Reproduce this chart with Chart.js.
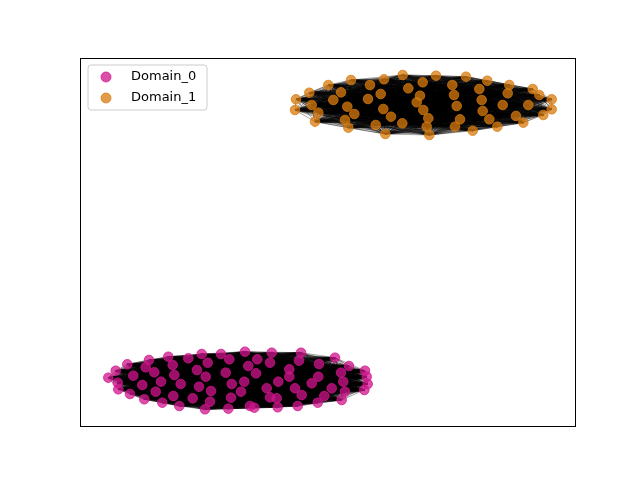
<!DOCTYPE html>
<html>
<head>
<meta charset="utf-8">
<script src="https://cdn.jsdelivr.net/npm/chart.js@4/dist/chart.umd.min.js"></script>
<style>
html,body{margin:0;padding:0;background:#fff;}
canvas{display:block;}
</style>
</head>
<body>
<canvas id="c" width="640" height="480"></canvas>
<script>
const seriesNames = ["Domain_0", "Domain_1"];
const d0x = [28.3,35.7,37.7,38.3,47.3,53.3,50,62.3,64.3,69,65.7,74.3,81,75.7,82.3,88.3,92.7,94.3,100.7,93.3,99.3,108.3,117,121.7,127.7,125.7,119,112.7,131,130,125,141,149.3,145.7,151.7,151,148.3,165,168.3,177.3,176,164.3,161,170,174.3,191.7,190,198.3,186.7,190,196.7,197.7,209.3,209.3,215,221,219,221.7,217.7,231.7,239,238.3,244.3,237.7,251.7,255,261,263.3,265,261.7,269,285,286.7,287.7,284.3];
const d0y = [49.3,56.3,44.3,37.7,62.7,51.3,33,42,27.7,67,59.7,54.7,45.3,35.3,24.3,70.3,62,52,43,31,21,68.7,57,73,64.3,50.3,40.3,28.7,36,25.3,17.7,73,67.7,54.3,43,29.3,18.3,75.3,61,67.7,53.7,45.3,35.3,21,19.3,74.3,64.3,45.3,38.7,29.7,28.7,19.7,57.7,50.3,38.7,74.3,66.3,32,21,43.7,63,50.3,31,24.3,38.7,69.3,54.3,45.3,35.3,27,61,56.3,50.3,43,37];
const d1x = [216,215,229.3,231.7,238.3,235,248.3,253.3,261,271,267.3,274.3,265,268.3,290,288,300.7,304,303.3,311,295.7,305.3,322.7,328.3,322.3,342.7,340,336.7,343.3,348.3,346.7,349.3,356,372.3,374,376.7,380,375,386,392.7,399.3,407.3,401.7,402.7,409.3,417.3,429.3,427.7,422.7,436,443.3,448.3,452.7,459.3,471.7,471.7,463.3];
const d1y = [327.7,317,334.3,322,314.3,305.3,342,327,334.7,347,320.3,313,307,299.3,342,328,333,347.7,318,310.3,302,293,352,338.7,303.7,344.7,331.3,324.7,317,308.7,300.3,292,351.3,342,332,321,307.7,300.3,350.3,296.3,338,346.3,327,316,307.7,300.3,342,333.7,322,311,304.3,322,338,332,327.7,317.7,312];
const xRange = [0, 496];
const yRange = [0, 369];

function pts(xs, ys){ return xs.map((x,i)=>({x:x, y:ys[i]})); }

const colors = ["rgba(208,20,140,0.75)", "rgba(215,122,12,0.75)"];

const pairLines = {
  id: 'pairLines',
  beforeDatasetsDraw(chart){
    const ctx = chart.ctx;
    const xs = chart.scales.x, ys = chart.scales.y;
    ctx.save();
    ctx.beginPath();
    ctx.rect(chart.chartArea.left, chart.chartArea.top, chart.chartArea.right-chart.chartArea.left, chart.chartArea.bottom-chart.chartArea.top);
    ctx.clip();
    ctx.strokeStyle = 'rgba(0,0,0,0.35)';
    ctx.lineWidth = 1;
    chart.data.datasets.forEach(ds => {
      const p = ds.data.map(d => [xs.getPixelForValue(d.x), ys.getPixelForValue(d.y)]);
      for (let i=0;i<p.length;i++){
        for (let j=i+1;j<p.length;j++){
          ctx.beginPath();
          ctx.moveTo(p[i][0], p[i][1]);
          ctx.lineTo(p[j][0], p[j][1]);
          ctx.stroke();
        }
      }
    });
    ctx.restore();
  }
};

const frameAndLegend = {
  id: 'frameAndLegend',
  afterDraw(chart){
    const ctx = chart.ctx;
    const a = chart.chartArea;
    ctx.save();
    ctx.strokeStyle = '#000';
    ctx.lineWidth = 1;
    ctx.strokeRect(Math.round(a.left)+0.5, Math.round(a.top)+0.5, Math.round(a.right-a.left)-1, Math.round(a.bottom-a.top)-1);
    // legend
    const bx = a.left + 8, by = a.top + 7, bw = 119, bh = 45, r = 3;
    ctx.beginPath();
    ctx.moveTo(bx+r, by);
    ctx.lineTo(bx+bw-r, by); ctx.quadraticCurveTo(bx+bw, by, bx+bw, by+r);
    ctx.lineTo(bx+bw, by+bh-r); ctx.quadraticCurveTo(bx+bw, by+bh, bx+bw-r, by+bh);
    ctx.lineTo(bx+r, by+bh); ctx.quadraticCurveTo(bx, by+bh, bx, by+bh-r);
    ctx.lineTo(bx, by+r); ctx.quadraticCurveTo(bx, by, bx+r, by);
    ctx.closePath();
    ctx.fillStyle = 'rgba(255,255,255,0.8)';
    ctx.fill();
    ctx.strokeStyle = '#cccccc';
    ctx.stroke();
    ctx.font = '13px "DejaVu Sans"';
    ctx.textBaseline = 'middle';
    chart.data.datasets.forEach((ds, i) => {
      const yy = by + 12 + i*21;
      ctx.beginPath();
      ctx.arc(bx + 18, yy, 5, 0, Math.PI*2);
      ctx.fillStyle = ds.backgroundColor;
      ctx.fill();
      ctx.strokeStyle = ds.borderColor;
      ctx.lineWidth = 1;
      ctx.stroke();
      ctx.fillStyle = '#000';
      ctx.fillText(ds.label, bx + 43, yy);
    });
    ctx.restore();
  }
};

new Chart(document.getElementById('c'), {
  type: 'scatter',
  data: {
    datasets: [
      { label: seriesNames[0], data: pts(d0x, d0y), backgroundColor: colors[0], borderColor: colors[0], borderWidth: 1, pointRadius: 4.8, pointHoverRadius: 4.8 },
      { label: seriesNames[1], data: pts(d1x, d1y), backgroundColor: colors[1], borderColor: colors[1], borderWidth: 1, pointRadius: 4.8, pointHoverRadius: 4.8 }
    ]
  },
  options: {
    responsive: false,
    animation: false,
    devicePixelRatio: 1,
    layout: { padding: { left: 80, top: 58, right: 64, bottom: 53 } },
    scales: {
      x: { type: 'linear', min: xRange[0], max: xRange[1], display: false },
      y: { type: 'linear', min: yRange[0], max: yRange[1], display: false }
    },
    plugins: { legend: { display: false }, tooltip: { enabled: false } }
  },
  plugins: [pairLines, frameAndLegend]
});
</script>
</body>
</html>
